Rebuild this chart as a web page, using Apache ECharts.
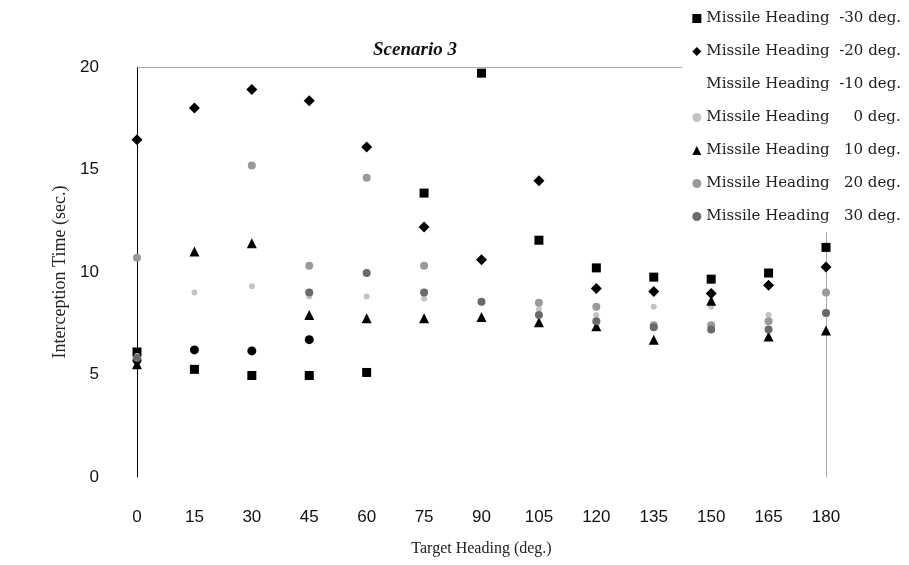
<!DOCTYPE html>
<html><head><meta charset="utf-8">
<script src="https://cdn.jsdelivr.net/npm/echarts@6/dist/echarts.min.js"></script>
<style>html,body{margin:0;padding:0;background:#fff}#c{width:909px;height:565px}</style>
</head><body><div id="c"></div>
<script>
const headings = [0,15,30,45,60,75,90,105,120,135,150,165,180];
const seriesNames = ['Missile Heading  -30 deg.','Missile Heading  -20 deg.','Missile Heading  -10 deg.','Missile Heading     0 deg.','Missile Heading   10 deg.','Missile Heading   20 deg.','Missile Heading   30 deg.'];
const m30 = [6.1,5.25,4.95,4.95,5.1,13.85,19.7,11.55,10.2,9.75,9.65,9.95,11.2];
const m20 = [16.45,18.0,18.9,18.35,16.1,12.2,10.6,14.45,9.2,9.05,8.95,9.35,10.25];
const m10 = [5.7,6.2,6.15,6.7,null,null,null,null,null,null,null,null,null];
const p0  = [5.9,9.0,9.3,8.8,8.8,8.7,8.6,8.2,7.9,8.3,8.3,7.9,null];
const p10 = [5.5,11.0,11.4,7.9,7.75,7.75,7.8,7.55,7.35,6.7,8.6,6.85,7.15];
const p20 = [10.7,null,15.2,10.3,14.6,10.3,null,8.5,8.3,7.4,7.4,7.6,9.0];
const p30 = [5.8,null,null,9.0,9.95,9.0,8.55,7.9,7.6,7.3,7.2,7.2,8.0];
const xTicks = {min:0,max:180,interval:15};
const yTicks = {min:0,max:20,interval:5};

const valuesList = [m30,m20,m10,p0,p10,p20,p30];
const symbols = ['rect','diamond','circle','circle','triangle','circle','circle'];
const sizes = [9,11,9,6,10,8,8];
const colors = ['#000','#000','#000','#c4c4c4','#000','#9a9a9a','#6a6a6a'];
const legendIcons = ['rect','diamond','none','circle','triangle','circle','circle'];

function pairs(v){return headings.map((h,i)=>[h,v[i]]).filter(p=>p[1]!=null);}

const chart = echarts.init(document.getElementById('c'));
chart.setOption({
  animation:false,
  backgroundColor:'#fff',
  title:{text:'Scenario 3',left:410,top:36,textAlign:'center',
    textStyle:{fontFamily:'Liberation Serif',fontStyle:'italic',fontWeight:'bold',fontSize:19,color:'#111'}},
  legend:{orient:'vertical',right:4,top:8,itemGap:18,itemWidth:9,itemHeight:9,
    textStyle:{fontFamily:'DejaVu Serif',fontSize:15,color:'#222'},
    data:seriesNames.map((n,i)=>({name:n,icon:legendIcons[i],itemStyle:{color:colors[i]}})),
    backgroundColor:'#fff',padding:[3,4,8,10]},
  grid:{left:137,right:83,top:67,bottom:88,containLabel:false},
  xAxis:[{type:'value',min:xTicks.min,max:xTicks.max,interval:xTicks.interval,
    axisLine:{show:false},axisTick:{show:false},splitLine:{show:false},
    axisLabel:{margin:32,fontSize:17,fontFamily:'Liberation Sans',color:'#111'},
    name:'Target Heading (deg.)',nameLocation:'middle',nameGap:64,
    nameTextStyle:{fontFamily:'Liberation Serif',fontSize:16,color:'#222'}},
    {type:'value',position:'top',min:xTicks.min,max:xTicks.max,interval:xTicks.interval,
    axisLine:{show:true,onZero:false,lineStyle:{color:'#999',type:'dotted',width:1}},axisTick:{show:false},
    axisLabel:{show:false},splitLine:{show:false}}],
  yAxis:[{type:'value',min:yTicks.min,max:yTicks.max,interval:yTicks.interval,
    axisLine:{show:true,onZero:false,lineStyle:{color:'#000',width:1}},axisTick:{show:false},splitLine:{show:false},
    axisLabel:{margin:38,fontSize:17,fontFamily:'Liberation Sans',color:'#111'},
    name:'Interception Time (sec.)',nameLocation:'middle',nameGap:52,
    nameTextStyle:{fontFamily:'Liberation Serif',fontSize:18,color:'#222'}},
    {type:'value',position:'right',min:yTicks.min,max:yTicks.max,interval:yTicks.interval,
    axisLine:{show:true,onZero:false,lineStyle:{color:'#999',type:'dotted',width:1}},axisTick:{show:false},
    axisLabel:{show:false},splitLine:{show:false}}],
  series:valuesList.map((v,i)=>({
    name:seriesNames[i],type:'scatter',data:pairs(v),symbol:symbols[i],symbolSize:sizes[i],
    itemStyle:{color:colors[i],opacity:1}
  }))
});
</script></body></html>
